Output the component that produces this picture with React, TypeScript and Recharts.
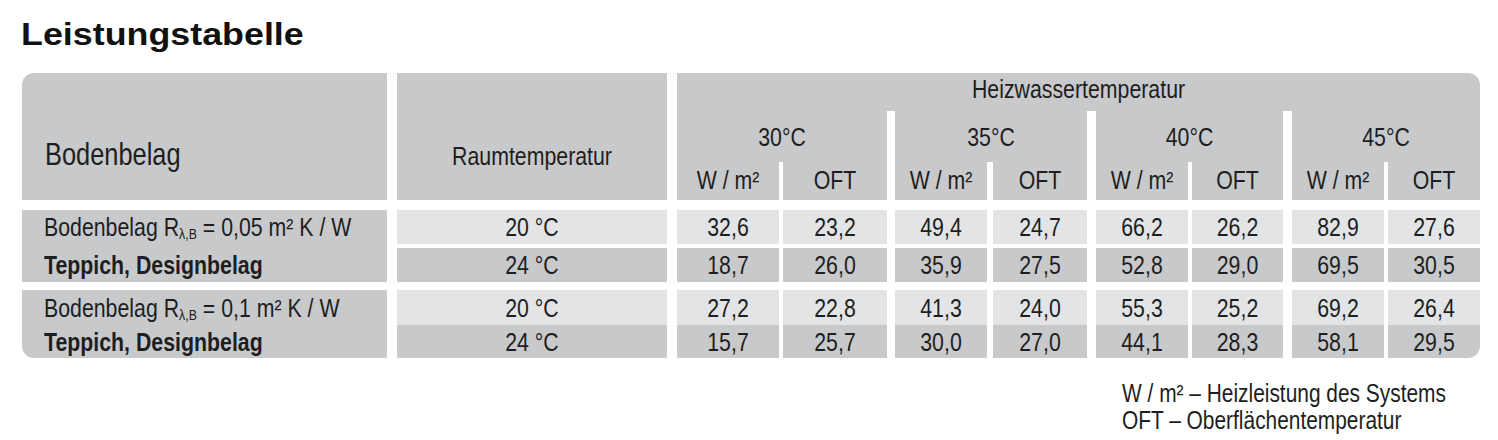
import React from 'react';
import { ScatterChart, Scatter, XAxis, YAxis, Rectangle } from 'recharts';

// table content
const title = 'Leistungstabelle';
const floorLabel = 'Bodenbelag';
const roomLabel = 'Raumtemperatur';
const waterLabel = 'Heizwassertemperatur';
const waterTemps = ['30°C', '35°C', '40°C', '45°C'];
const subLabels = ['W / m²', 'OFT'];
const resistances = ['0,05', '0,1'];
const floorKind = 'Teppich, Designbelag';
const roomTemps = ['20 °C', '24 °C', '20 °C', '24 °C'];

// W / m² and OFT per row, one value per water temperature
const heat1 = [32.6, 49.4, 66.2, 82.9];
const surf1 = [23.2, 24.7, 26.2, 27.6];
const heat2 = [18.7, 35.9, 52.8, 69.5];
const surf2 = [26.0, 27.5, 29.0, 30.5];
const heat3 = [27.2, 41.3, 55.3, 69.2];
const surf3 = [22.8, 24.0, 25.2, 26.4];
const heat4 = [15.7, 30.0, 44.1, 58.1];
const surf4 = [25.7, 27.0, 28.3, 29.5];

const notes = ['W / m² – Heizleistung des Systems', 'OFT – Oberflächentemperatur'];

// layout
const W = 1498;
const H = 440;
const LIGHT = '#e3e4e6';
const DARK = '#c8c9cb';
const INK = '#1e1e1e';
const FONT = "'Liberation Sans', Arial, sans-serif";
const NARROW = 0.82; // condensed look: Arial squeezed horizontally
const R = 12;
const FS = 26;
const col0 = [22, 387];
const col1 = [397, 667];
const subEdges = [
  [677, 779], [783, 887], [895, 987], [993, 1087],
  [1096, 1188], [1192, 1283], [1292, 1384], [1388, 1480],
];
const rowEdges = [[210, 244], [248, 282], [290, 325], [325, 358]];
const rowFills = [LIGHT, DARK, LIGHT, DARK];
const head = { top: 73, water: 110, sub: 161, bottom: 200 };

const fmt = (v: number) => v.toFixed(1).replace('.', ',');
const mid = (e: number[]) => (e[0] + e[1]) / 2;
const baseline = (e: number[]) => mid(e) + FS * 0.36;

const box = (x: number[], y: number[], fill: string, radius = [0, 0, 0, 0]) => ({
  x: mid(x), y: mid(y), w: x[1] - x[0], h: y[1] - y[0], fill, radius,
});

const heatRows = [heat1, heat2, heat3, heat4];
const surfRows = [surf1, surf2, surf3, surf4];

const cells = [
  box(col0, [head.top, head.bottom], DARK, [R, 0, 0, 0]),
  box(col1, [head.top, head.bottom], DARK),
  box([subEdges[0][0], subEdges[7][1]], [head.top, head.water + 1], DARK, [0, R, 0, 0]),
  ...waterTemps.map((_, g) => box([subEdges[g * 2][0], subEdges[g * 2 + 1][1]], [head.water, head.sub + 1], DARK)),
  ...subEdges.map((e) => box(e, [head.sub, head.bottom], DARK)),
  box(col0, [rowEdges[0][0], rowEdges[1][1]], DARK),
  box(col0, [rowEdges[2][0], rowEdges[3][1]], DARK, [0, 0, 0, R]),
  ...rowEdges.map((r, i) => box(col1, r, rowFills[i])),
  ...rowEdges.flatMap((r, i) =>
    subEdges.map((e, j) => box(e, r, rowFills[i], i === 3 && j === 7 ? [0, 0, R, 0] : [0, 0, 0, 0]))
  ),
];

const lbl = (x: number, y: number, text: string, opts = {}) => ({
  x, y, text, anchor: 'middle', size: FS, weight: 'normal', sx: NARROW, ...opts,
});

const labels = [
  lbl(21, 45, title, { anchor: 'start', size: 32, weight: 'bold', sx: 1.12, color: '#111' }),
  lbl(45, 165, floorLabel, { anchor: 'start', size: 31 }),
  lbl(mid(col1), 165, roomLabel),
  lbl((subEdges[0][0] + subEdges[7][1]) / 2, 98, waterLabel),
  ...waterTemps.map((t, g) => lbl((subEdges[g * 2][0] + subEdges[g * 2 + 1][1]) / 2, 146, t)),
  ...subEdges.map((e, j) => lbl(mid(e), 189, subLabels[j % 2])),
  ...resistances.flatMap((r, k) => [
    lbl(44, baseline(rowEdges[k * 2]), '', { anchor: 'start', resistance: r }),
    lbl(44, baseline(rowEdges[k * 2 + 1]), floorKind, { anchor: 'start', weight: 'bold' }),
  ]),
  ...roomTemps.map((t, i) => lbl(mid(col1), baseline(rowEdges[i]), t)),
  ...rowEdges.flatMap((r, i) =>
    subEdges.map((e, j) => lbl(mid(e), baseline(r), fmt(j % 2 === 0 ? heatRows[i][j / 2] : surfRows[i][(j - 1) / 2])))
  ),
  ...notes.map((n, i) => lbl(1122, 402 + i * 27, n, { anchor: 'start', size: 25.5 })),
];

const renderCell = (props: any) => {
  const { cx, cy, payload } = props;
  return (
    <Rectangle
      x={cx - payload.w / 2}
      y={cy - payload.h / 2}
      width={payload.w}
      height={payload.h}
      radius={payload.radius}
      fill={payload.fill}
    />
  );
};

const renderLabel = (props: any) => {
  const { cx, cy, payload } = props;
  const style = {
    fontFamily: FONT,
    fontSize: payload.size,
    fontWeight: payload.weight,
    fill: payload.color || INK,
  };
  const transform = `translate(${cx},${cy}) scale(${payload.sx},1)`;
  if (payload.resistance) {
    return (
      <text x={0} y={0} transform={transform} textAnchor="start" style={style}>
        Bodenbelag R
        <tspan fontSize={15} dy={3}>λ,B</tspan>
        <tspan dy={-3}>{` = ${payload.resistance} m² K / W`}</tspan>
      </text>
    );
  }
  return (
    <text x={0} y={0} transform={transform} textAnchor={payload.anchor} style={style}>
      {payload.text}
    </text>
  );
};

export default function App() {
  return (
    <div style={{ width: W, height: H, background: '#fff' }}>
      <style>{'body{margin:0}'}</style>
      <ScatterChart width={W} height={H} margin={{ top: 0, right: 0, bottom: 0, left: 0 }}>
        <XAxis type="number" dataKey="x" domain={[0, W]} allowDataOverflow hide />
        <YAxis type="number" dataKey="y" domain={[0, H]} allowDataOverflow reversed hide />
        <Scatter data={cells} shape={renderCell} isAnimationActive={false} />
        <Scatter data={labels} shape={renderLabel} isAnimationActive={false} />
      </ScatterChart>
    </div>
  );
}
